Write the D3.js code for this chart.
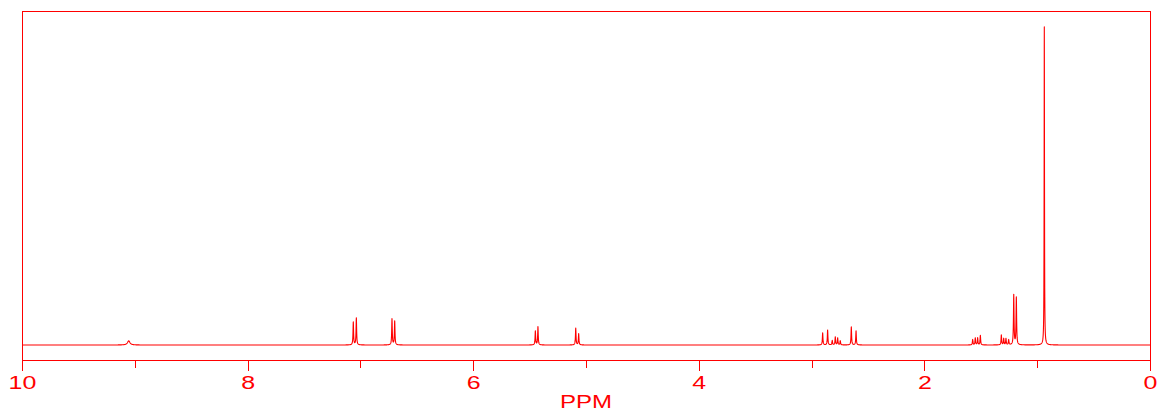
<!DOCTYPE html>
<html><head><meta charset="utf-8">
<script src="https://cdn.jsdelivr.net/npm/d3@7"></script>
<style>body{margin:0;background:#fff}svg{display:block}</style>
</head><body>
<svg id="chart" width="1157" height="411"></svg>
<script>
// Peak list (chemical shift in ppm, relative intensity, tallest = 100)
const peakPpm = [9.054, 7.063, 7.036, 6.720, 6.696, 5.449, 5.426, 5.091, 5.065,
  2.902, 2.858, 2.817, 2.790, 2.769, 2.746, 2.648, 2.606,
  1.572, 1.549, 1.528, 1.504, 1.318, 1.297, 1.277, 1.253, 1.208, 1.185, 0.937];
const peakIntensity = [1.3, 7.2, 8.5, 8.2, 7.5, 4.4, 5.7, 5.3, 3.5,
  3.8, 4.7, 1.4, 2.5, 2.2, 1.3, 5.7, 4.4,
  1.7, 2.2, 2.2, 3.0, 3.1, 2.0, 2.0, 1.6, 15.7, 14.9, 100];
const peakHalfWidth = [0.013, 0.003, 0.003, 0.003, 0.003, 0.003, 0.003, 0.003, 0.003,
  0.003, 0.003, 0.003, 0.003, 0.003, 0.003, 0.003, 0.003,
  0.003, 0.003, 0.003, 0.003, 0.003, 0.003, 0.003, 0.003, 0.003, 0.003, 0.0018];
const majorTicks = [10, 8, 6, 4, 2, 0];
const minorTicks = [9, 7, 5, 3, 1];
const axisTitle = "PPM";
const ppmRange = [10, 0];

const color = "#ff0000";
const svg = d3.select("#chart");
const mLeft = 22, mRight = 1150, mTop = 11, mBottom = 360, baseY = 345;

const x = d3.scaleLinear().domain(ppmRange).range([mLeft, mRight]);
const y = d3.scaleLinear().domain([0, 105]).range([baseY, mTop]);

// spectrum line built from the peak list (Lorentzian line shapes)
const nSamp = (mRight - mLeft) * 8;
let pts = d3.range(nSamp + 1).map(i => ppmRange[0] - i * (ppmRange[0] - ppmRange[1]) / nSamp);
pts = pts.concat(peakPpm);
pts.sort((a, b) => b - a);
const spec = pts.map(p => {
  let v = 0;
  for (let k = 0; k < peakPpm.length; k++) {
    const g = peakHalfWidth[k], d = p - peakPpm[k];
    v += peakIntensity[k] * g * g / (d * d + g * g);
  }
  return [p, v];
});

// frame
svg.append("rect").attr("x", mLeft).attr("y", mTop).attr("width", mRight - mLeft).attr("height", mBottom - mTop)
  .attr("fill", "none").attr("stroke", color).attr("stroke-width", 1).attr("shape-rendering", "crispEdges");

svg.append("path").datum(spec)
  .attr("d", d3.line().x(d => x(d[0])).y(d => y(d[1])))
  .attr("fill", "none").attr("stroke", color).attr("stroke-width", 1.1).attr("stroke-linejoin", "round");

// axes
const gMaj = svg.append("g").attr("transform", `translate(0,${mBottom})`)
  .call(d3.axisBottom(x).tickValues(majorTicks).tickSize(11).tickFormat(d3.format("d")));
const gMin = svg.append("g").attr("transform", `translate(0,${mBottom})`)
  .call(d3.axisBottom(x).tickValues(minorTicks).tickSize(8).tickFormat(""));
[gMaj, gMin].forEach(g => {
  g.select(".domain").remove();
  g.selectAll(".tick line").attr("stroke", color).attr("shape-rendering", "crispEdges");
});
gMaj.selectAll(".tick text")
  .attr("fill", color).attr("font-family", "Liberation Sans, Arial, sans-serif").attr("font-size", 18.5)
  .attr("y", 0).attr("dy", 0)
  .attr("transform", "translate(0,29) scale(1.35,1)");

svg.append("text").attr("x", 0).attr("y", 0)
  .attr("transform", `translate(${x(5)},408) scale(1.3,1)`)
  .attr("text-anchor", "middle").attr("fill", color)
  .attr("font-family", "Liberation Sans, Arial, sans-serif").attr("font-size", 18.5)
  .text(axisTitle);
</script>
</body></html>
